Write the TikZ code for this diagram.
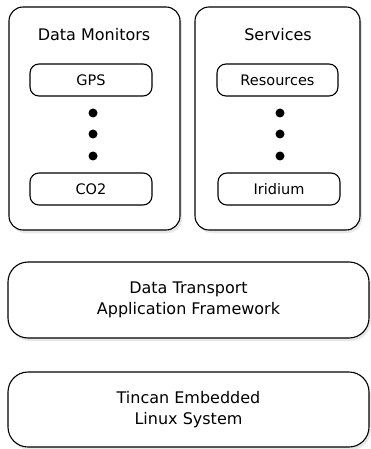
\documentclass[tikz,border=0pt]{standalone}
\usepackage{fontspec}
\setmainfont{DejaVu Sans}
\usetikzlibrary{shadows}
\begin{document}
\begin{tikzpicture}[x=1pt,y=-1pt,
  box/.style={draw=black, line width=1.1pt, fill=white, rounded corners=#1,
    drop shadow={shadow xshift=2pt, shadow yshift=-3pt, opacity=0.18}, inner sep=0pt},
  box/.default=14pt,
  sub/.style={draw=black, line width=1.1pt, fill=white, rounded corners=9pt,
    minimum width=122pt, minimum height=32pt, inner sep=0pt, font=\fontsize{14.5}{17}\selectfont},
  dot/.style={circle, fill=black, minimum size=9pt, inner sep=0pt},
  ttl/.style={font=\fontsize{16}{19}\selectfont},
  big/.style={font=\fontsize{16}{21}\selectfont, align=center}]
\useasboundingbox (0,0) rectangle (371,449);
\node[box, minimum width=171pt, minimum height=223pt] (dm) at (94.5,118.5) {};
\node[box, minimum width=165pt, minimum height=223pt] (sv) at (277.5,118.5) {};
\node[ttl] (dmt) at (94,35) {Data Monitors};
\node[ttl] (svt) at (278,35) {Services};
\node[sub] (gps) at (91,80) {GPS};
\node[sub] (co2) at (91,189) {CO2};
\node[sub, minimum width=121pt] (res) at (277.5,80) {Resources};
\node[sub] (iri) at (279,189) {Iridium};
\node[dot] (d1) at (93,113) {};
\node[dot] (d2) at (93,134) {};
\node[dot] (d3) at (93,156) {};
\node[dot] (e1) at (280,113) {};
\node[dot] (e2) at (280,134) {};
\node[dot] (e3) at (280,156) {};
\node[box=20pt, minimum width=361pt, minimum height=76pt, big] (dta) at (188.5,300)
  {Data Transport\\Application Framework};
\node[box=20pt, minimum width=361pt, minimum height=75pt, big] (tin) at (188.5,409.5)
  {Tincan Embedded\\Linux System};
\end{tikzpicture}
\end{document}
